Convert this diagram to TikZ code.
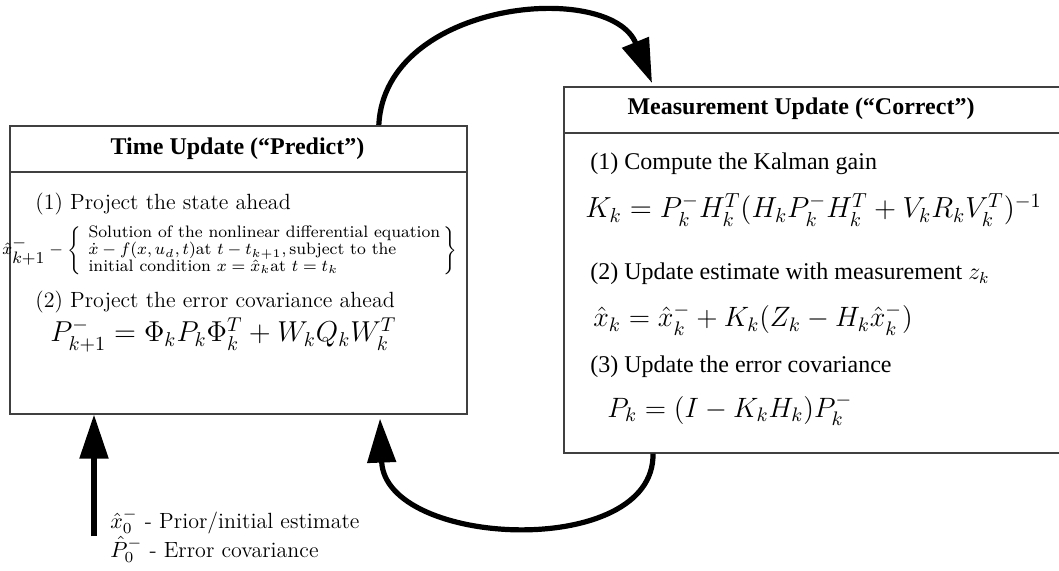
\RequirePackage{fix-cm}
\documentclass[tikz,border=0pt]{standalone}
\usepackage{amsmath}
\usepackage{fontspec}
\newfontfamily\timesf{Liberation Serif}
\usetikzlibrary{arrows.meta,calc}
\begin{document}
\begin{tikzpicture}[x=0.5pt,y=-0.5pt,
  box/.style={draw=black!75, line width=0.8pt, anchor=north west, inner sep=0pt},
  rule/.style={draw=black!75, line width=0.8pt},
  hdr/.style={font=\timesf\bfseries\fontsize{12}{14}\selectfont, anchor=base, inner sep=0pt},
  lmtext/.style={font=\fontsize{11}{13}\selectfont, anchor=base west, inner sep=0pt},
  tmtext/.style={font=\timesf\fontsize{12}{14}\selectfont, anchor=base west, inner sep=0pt},
  eqn/.style={anchor=base west, inner sep=0pt},
  flow/.style={line width=2.6pt, -{Triangle[length=22pt,width=14pt]}}]
\useasboundingbox (0,0) rectangle (1059,571);
% boxes
\node[box, minimum width=228.5pt, minimum height=144pt] (tu) at (9,125) {};
\node[box, minimum width=249.5pt, minimum height=183pt] (mu) at (563,86) {};
\draw[rule] ($(tu.north west)+(0,47)$) -- ($(tu.north east)+(0,47)$);
\draw[rule] ($(mu.north west)+(0,47)$) -- ($(mu.north east)+(0,47)$);
% left box
\node[hdr] (tut) at (237.5,155) {Time Update (“Predict”)};
\node[lmtext] (t1) at (35,210) {(1) Project the state ahead};
\node[eqn] (tb) at (2,255) {\fontsize{8.3}{8}\selectfont\addfontfeature{LetterSpace=6}%
  $\hat{x}^{\textstyle -}_{\textstyle k{+}1} - \left\{\;\begin{array}{@{\,}l@{\,}}
  \text{Solution of the nonlinear differential equation}\\
  \dot{x} - f(x,u_d,t)\text{at } t - t_{k+1},\text{subject to the}\\
  \text{initial condition } x = \hat{x}_k\text{at } t = t_k
  \end{array}\right\}$};
\node[lmtext] (t2) at (35,308) {(2) Project the error covariance ahead};
\node[eqn] (te) at (50,342) {\fontsize{14.4}{17}\selectfont
  $P^-_{k+1} = \Phi_k P_k \Phi_k^T + W_k Q_k W_k^T$};
% right box
\node[hdr] (mut) at (801,115) {Measurement Update (“Correct”)};
\node[tmtext] (m1) at (590,170) {(1) Compute the Kalman gain};
\node[eqn] (me1) at (585,218) {\fontsize{14.5}{17}\selectfont
  $K_k = P_k^- H_k^T (H_k P_k^- H_k^T + V_k R_k V_k^T)^{-1}$};
\node[tmtext] (m2) at (590,280) {(2) Update estimate with measurement $z_k$};
\node[eqn] (me2) at (593,327) {\fontsize{14}{17}\selectfont
  $\hat{x}_k = \hat{x}_k^- + K_k(Z_k - H_k \hat{x}_k^-)$};
\node[tmtext] (m3) at (590,372) {(3) Update the error covariance};
\node[eqn] (me3) at (607,417) {\fontsize{14}{17}\selectfont
  $P_k = (I - K_k H_k)P_k^-$};
% initial labels
\node[lmtext] (l1) at (110,528) {$\hat{x}_0^-$ - Prior/initial estimate};
\node[lmtext] (l2) at (110,557) {$\hat{P}_0^-$ - Error covariance};
\coordinate (init) at (94,536);
% connectors
\draw[flow] ([xshift=70.25pt]tu.north) .. controls (385,0) and (610,-20) .. ([xshift=44.5pt,yshift=1.5pt]mu.north west);
\draw[flow] ([xshift=45pt]mu.south west) .. controls (655,560) and (385,548) .. ([xshift=185.5pt,yshift=-2pt]tu.south west);
\draw[flow] (init) -- ([xshift=42.5pt]tu.south west);
\end{tikzpicture}
\end{document}
